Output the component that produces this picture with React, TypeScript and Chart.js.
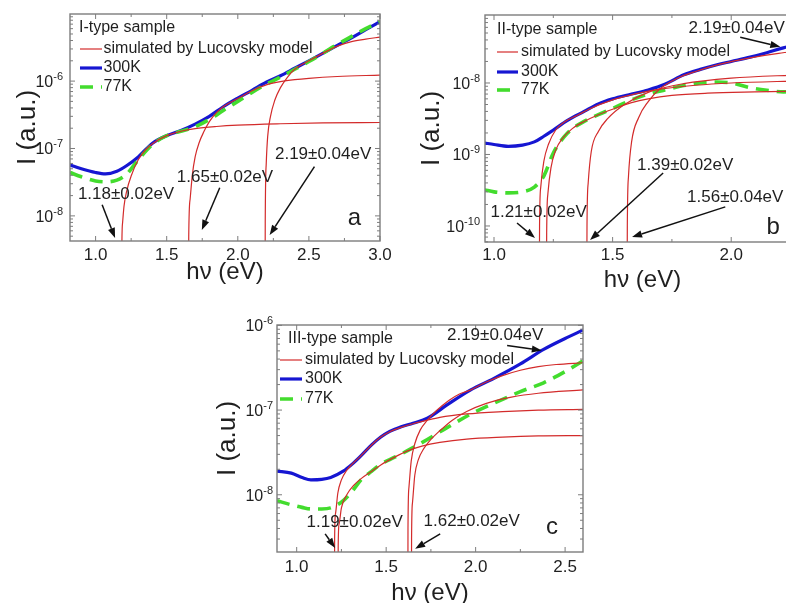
import React, { useEffect, useRef } from 'react';
import { Chart, registerables } from 'chart.js';

Chart.register(...registerables);

const FONT = '"Liberation Sans", Arial, Helvetica, sans-serif';
const INK = '#1f1f1f';
const FRAME = '#7d7d7d';
const RED = '#d32b2b';
const BLUE = '#1616d2';
const GREEN = '#43dc2e';

// ===== (a) I-type sample =====
const aEnergy = [0.82, 0.9, 1.0, 1.07, 1.15, 1.22, 1.3, 1.4, 1.5, 1.6, 1.7, 1.8, 1.9, 2.0, 2.1, 2.2, 2.3, 2.4, 2.5, 2.6, 2.7, 2.8, 2.9, 3.0];
const aI300K = [5.7e-8, 5.0e-8, 4.4e-8, 4.2e-8, 4.6e-8, 5.6e-8, 7.5e-8, 1.2e-7, 1.55e-7, 1.85e-7, 2.3e-7, 3.0e-7, 4.2e-7, 5.6e-7, 7.3e-7, 9.6e-7, 1.2e-6, 1.55e-6, 2.0e-6, 2.6e-6, 3.4e-6, 4.4e-6, 5.8e-6, 7.6e-6];
const aI77K = [4.4e-8, 3.8e-8, 3.3e-8, 3.2e-8, 3.4e-8, 4.2e-8, 6.8e-8, 1.15e-7, 1.55e-7, 1.8e-7, 2.1e-7, 2.7e-7, 3.7e-7, 5.0e-7, 6.8e-7, 9.0e-7, 1.15e-6, 1.5e-6, 1.95e-6, 2.6e-6, 3.5e-6, 4.6e-6, 6.0e-6, 7.6e-6];
const aFit118E = [1.18, 1.185, 1.19, 1.2, 1.22, 1.25, 1.3, 1.35, 1.4, 1.5, 1.6, 1.7, 1.85, 2.0, 2.3, 2.6, 3.0];
const aFit118I = [1e-11, 4e-9, 8e-9, 1.4e-8, 2.4e-8, 3.9e-8, 6.8e-8, 9.5e-8, 1.18e-7, 1.55e-7, 1.8e-7, 1.97e-7, 2.12e-7, 2.22e-7, 2.33e-7, 2.4e-7, 2.43e-7];
const aFit165E = [1.65, 1.655, 1.665, 1.68, 1.7, 1.73, 1.76, 1.8, 1.85, 1.9, 2.0, 2.1, 2.2, 2.3, 2.4, 2.5, 2.7, 3.0];
const aFit165I = [1e-11, 5e-9, 1.8e-8, 4e-8, 7.5e-8, 1.25e-7, 1.75e-7, 2.5e-7, 3.4e-7, 4.2e-7, 5.5e-7, 7.2e-7, 8.8e-7, 9.8e-7, 1.05e-6, 1.1e-6, 1.17e-6, 1.23e-6];
const aFit219E = [2.19, 2.193, 2.2, 2.21, 2.23, 2.26, 2.3, 2.35, 2.4, 2.5, 2.6, 2.7, 2.8, 2.9, 3.0];
const aFit219I = [1e-11, 8e-9, 6e-8, 1.5e-7, 3e-7, 5.2e-7, 8e-7, 1.15e-6, 1.5e-6, 2.0e-6, 2.6e-6, 3.3e-6, 3.85e-6, 4.2e-6, 4.5e-6];

// ===== (b) II-type sample =====
const bEnergy = [0.96, 1.0, 1.06, 1.12, 1.17, 1.21, 1.25, 1.31, 1.38, 1.44, 1.5, 1.58, 1.65, 1.72, 1.8, 1.87, 1.94, 2.0, 2.08, 2.15, 2.22, 2.29];
const bI300K = [1.45e-9, 1.38e-9, 1.3e-9, 1.35e-9, 1.5e-9, 1.8e-9, 2.2e-9, 3.0e-9, 4.0e-9, 5.1e-9, 6.0e-9, 7.0e-9, 8.0e-9, 9.6e-9, 1.3e-8, 1.55e-8, 1.8e-8, 2.0e-8, 2.3e-8, 2.65e-8, 3.1e-8, 3.5e-8];
const bI77K = [3.2e-10, 3.0e-10, 2.9e-10, 3.0e-10, 3.5e-10, 5e-10, 1.05e-9, 2.0e-9, 2.9e-9, 3.6e-9, 4.4e-9, 5.8e-9, 7e-9, 8e-9, 9.2e-9, 1.0e-8, 1.03e-8, 1.0e-8, 8.6e-9, 7.9e-9, 7.5e-9, 7.6e-9];
const bFit119E = [1.19, 1.192, 1.197, 1.21, 1.23, 1.26, 1.3, 1.35, 1.4, 1.5, 1.6, 1.7, 1.85, 2.0, 2.29];
const bFit119I = [1e-12, 1e-10, 3.5e-10, 8e-10, 1.4e-9, 2.2e-9, 2.9e-9, 3.5e-9, 4.3e-9, 5.8e-9, 7.1e-9, 8.2e-9, 9.3e-9, 1.0e-8, 1.07e-8];
const bFit122E = [1.22, 1.222, 1.227, 1.24, 1.26, 1.29, 1.33, 1.38, 1.44, 1.5, 1.58, 1.65, 1.75, 1.9, 2.1, 2.29];
const bFit122I = [1e-12, 8e-11, 2.8e-10, 6.5e-10, 1.15e-9, 1.7e-9, 2.3e-9, 2.9e-9, 3.6e-9, 4.3e-9, 5.3e-9, 6.0e-9, 6.7e-9, 7.2e-9, 7.5e-9, 7.7e-9];
const bFit139E = [1.39, 1.392, 1.397, 1.41, 1.44, 1.48, 1.55, 1.65, 1.8, 2.0, 2.29];
const bFit139I = [1e-12, 1e-10, 4e-10, 1.1e-9, 2.1e-9, 3.2e-9, 5e-9, 7.4e-9, 9.8e-9, 1.17e-8, 1.3e-8];
const bFit156E = [1.56, 1.562, 1.567, 1.58, 1.61, 1.65, 1.7, 1.77, 1.85, 1.95, 2.08, 2.2, 2.29];
const bFit156I = [1e-12, 1e-10, 5e-10, 1.5e-9, 3.3e-9, 5.5e-9, 8.3e-9, 1.15e-8, 1.45e-8, 1.82e-8, 2.25e-8, 2.6e-8, 2.8e-8];

// ===== (c) III-type sample =====
const cEnergy = [0.89, 0.97, 1.03, 1.08, 1.14, 1.19, 1.26, 1.31, 1.36, 1.42, 1.47, 1.52, 1.58, 1.65, 1.73, 1.84, 1.97, 2.1, 2.25, 2.38, 2.5, 2.6];
const cI300K = [1.9e-8, 1.8e-8, 1.6e-8, 1.5e-8, 1.52e-8, 1.6e-8, 1.9e-8, 2.3e-8, 2.9e-8, 3.9e-8, 4.8e-8, 5.6e-8, 6.3e-8, 7.0e-8, 8.0e-8, 1.15e-7, 1.72e-7, 2.35e-7, 3.5e-7, 5.2e-7, 7.0e-7, 8.8e-7];
const cI77K = [8.5e-9, 7.6e-9, 7.1e-9, 6.8e-9, 6.8e-9, 7.0e-9, 8.5e-9, 1.1e-8, 1.5e-8, 1.9e-8, 2.3e-8, 2.6e-8, 3.0e-8, 3.6e-8, 4.5e-8, 6.2e-8, 8.9e-8, 1.2e-7, 1.65e-7, 2.1e-7, 2.85e-7, 3.8e-7];
const cFit121E = [1.21, 1.212, 1.217, 1.23, 1.25, 1.28, 1.31, 1.36, 1.42, 1.47, 1.52, 1.58, 1.65, 1.72, 1.8, 1.95, 2.15, 2.35, 2.6];
const cFit121I = [1e-11, 3e-9, 6e-9, 1.05e-8, 1.5e-8, 1.95e-8, 2.3e-8, 2.9e-8, 3.9e-8, 4.8e-8, 5.55e-8, 6.2e-8, 6.9e-8, 7.5e-8, 8.2e-8, 9.0e-8, 9.6e-8, 1.0e-7, 1.02e-7];
const cFit123E = [1.23, 1.232, 1.237, 1.25, 1.28, 1.32, 1.36, 1.42, 1.47, 1.55, 1.62, 1.7, 1.8, 1.95, 2.15, 2.35, 2.6];
const cFit123I = [1e-11, 2.5e-9, 4.5e-9, 7e-9, 1.0e-8, 1.3e-8, 1.55e-8, 1.9e-8, 2.25e-8, 2.8e-8, 3.3e-8, 3.75e-8, 4.15e-8, 4.55e-8, 4.8e-8, 4.95e-8, 5.0e-8];
const cFit162E = [1.62, 1.622, 1.627, 1.64, 1.66, 1.69, 1.73, 1.78, 1.85, 1.91, 1.97, 2.05, 2.15, 2.25, 2.35, 2.45, 2.6];
const cFit162I = [1e-11, 4e-9, 1.2e-8, 2.5e-8, 4e-8, 5.8e-8, 7.6e-8, 9.8e-8, 1.3e-7, 1.55e-7, 1.72e-7, 2.1e-7, 2.55e-7, 2.95e-7, 3.25e-7, 3.45e-7, 3.62e-7];
const cFit164E = [1.64, 1.642, 1.647, 1.66, 1.68, 1.71, 1.75, 1.8, 1.87, 1.95, 2.06, 2.2, 2.35, 2.6];
const cFit164I = [1e-11, 3e-9, 8e-9, 1.7e-8, 2.6e-8, 3.5e-8, 4.5e-8, 5.7e-8, 7.6e-8, 9.6e-8, 1.2e-7, 1.42e-7, 1.58e-7, 1.73e-7];

const X_TITLE = 'h\u03bd (eV)';
const Y_TITLE = 'I (a.u.)';
const FIT_LABEL = 'simulated by Lucovsky model';

type Fit = { e: number[]; i: number[] };
type Note = { text: string; tx: number; ty: number; fx: number; fy: number; hx: number; hy: number };

interface PanelSpec {
  box: { left: number; top: number; width: number; height: number };
  yAxisWidth: number;
  xAxisHeight: number;
  padTop: number;
  padRight: number;
  xMin: number;
  xMax: number;
  yMin: number;
  yMax: number;
  xTicks: number[];
  tickPad: number;
  xTitlePad: number;
  yTitlePad: number;
  labelGap: number;
  e300: number[];
  i300: number[];
  e77: number[];
  i77: number[];
  fits: Fit[];
  sample: string;
  legend: { titleX: number; titleY: number; x0: number; x1: number; textX: number; rows: number[] };
  notes: Note[];
  letter: { text: string; x: number; y: number };
}

const panels: PanelSpec[] = [
  {
    box: { left: 0, top: 0, width: 400, height: 290 },
    yAxisWidth: 70, xAxisHeight: 49, padTop: 14, padRight: 20,
    xMin: 0.82, xMax: 3.0, yMin: 4.24e-9, yMax: 9.9e-6,
    xTicks: [1.0, 1.5, 2.0, 2.5, 3.0],
    tickPad: 4, xTitlePad: 3, yTitlePad: 12, labelGap: 7,
    e300: aEnergy, i300: aI300K, e77: aEnergy, i77: aI77K,
    fits: [
      { e: aFit118E, i: aFit118I },
      { e: aFit165E, i: aFit165I },
      { e: aFit219E, i: aFit219I },
    ],
    sample: 'I-type sample',
    legend: { titleX: 9, titleY: 14, x0: 10, x1: 32, textX: 33.5, rows: [35, 54, 73] },
    notes: [
      { text: '1.18\u00b10.02eV', tx: 1.214, ty: 2.06e-8, fx: 1.046, fy: 1.46e-8, hx: 1.137, hy: 4.7e-9 },
      { text: '1.65\u00b10.02eV', tx: 1.91, ty: 3.69e-8, fx: 1.873, fy: 2.62e-8, hx: 1.747, hy: 6.18e-9 },
      { text: '2.19\u00b10.04eV', tx: 2.6, ty: 8.13e-8, fx: 2.539, fy: 5.38e-8, hx: 2.224, hy: 5.2e-9 },
    ],
    letter: { text: 'a', x: 2.82, y: 9.3e-9 },
  },
  {
    box: { left: 400, top: 0, width: 420, height: 300 },
    yAxisWidth: 85, xAxisHeight: 58, padTop: 15, padRight: 20,
    xMin: 0.962, xMax: 2.29, yMin: 5.97e-11, yMax: 8.93e-8,
    xTicks: [1.0, 1.5, 2.0],
    tickPad: 3, xTitlePad: 5.6, yTitlePad: 16, labelGap: 5,
    e300: bEnergy, i300: bI300K, e77: bEnergy, i77: bI77K,
    fits: [
      { e: bFit119E, i: bFit119I },
      { e: bFit122E, i: bFit122I },
      { e: bFit139E, i: bFit139I },
      { e: bFit156E, i: bFit156I },
    ],
    sample: 'II-type sample',
    legend: { titleX: 12, titleY: 15, x0: 12, x1: 33, textX: 36, rows: [37, 57, 75] },
    notes: [
      { text: '1.21\u00b10.02eV', tx: 1.188, ty: 1.57e-10, fx: 1.097, fy: 1.1e-10, hx: 1.173, hy: 6.8e-11 },
      { text: '1.39\u00b10.02eV', tx: 1.806, ty: 7.13e-10, fx: 1.713, fy: 5.5e-10, hx: 1.405, hy: 6.37e-11 },
      { text: '1.56\u00b10.04eV', tx: 2.017, ty: 2.55e-10, fx: 1.975, fy: 1.85e-10, hx: 1.582, hy: 7.0e-11 },
      { text: '2.19\u00b10.04eV', tx: 2.023, ty: 5.87e-8, fx: 2.038, fy: 4.35e-8, hx: 2.207, hy: 3.22e-8 },
    ],
    letter: { text: 'b', x: 2.177, y: 9.7e-11 },
  },
  {
    box: { left: 200, top: 300, width: 400, height: 320 },
    yAxisWidth: 77, xAxisHeight: 68, padTop: 25, padRight: 17,
    xMin: 0.89, xMax: 2.6, yMin: 2.11e-9, yMax: 1.01e-6,
    xTicks: [1.0, 1.5, 2.0, 2.5],
    tickPad: 5.5, xTitlePad: 12.6, yTitlePad: 12, labelGap: 4,
    e300: cEnergy, i300: cI300K, e77: cEnergy, i77: cI77K,
    fits: [
      { e: cFit121E, i: cFit121I },
      { e: cFit123E, i: cFit123I },
      { e: cFit162E, i: cFit162I },
      { e: cFit164E, i: cFit164I },
    ],
    sample: 'III-type sample',
    legend: { titleX: 11, titleY: 14, x0: 3, x1: 25, textX: 28, rows: [35, 54, 74] },
    notes: [
      { text: '2.19\u00b10.04eV', tx: 2.109, ty: 7.6e-7, fx: 2.176, fy: 5.8e-7, hx: 2.37, hy: 5.06e-7 },
      { text: '1.19\u00b10.02eV', tx: 1.324, ty: 4.67e-9, fx: 1.159, fy: 3.45e-9, hx: 1.215, hy: 2.36e-9 },
      { text: '1.62\u00b10.02eV', tx: 1.978, ty: 4.92e-9, fx: 1.802, fy: 3.45e-9, hx: 1.662, hy: 2.3e-9 },
    ],
    letter: { text: 'c', x: 2.427, y: 4.07e-9 },
  },
];

function drawArrow(ctx: CanvasRenderingContext2D, x0: number, y0: number, x1: number, y1: number) {
  const ang = Math.atan2(y1 - y0, x1 - x0);
  const L = 10;
  const W = 3.6;
  const bx = x1 - L * Math.cos(ang);
  const by = y1 - L * Math.sin(ang);
  ctx.beginPath();
  ctx.moveTo(x0, y0);
  ctx.lineTo(bx, by);
  ctx.stroke();
  ctx.beginPath();
  ctx.moveTo(x1, y1);
  ctx.lineTo(bx + W * Math.sin(ang), by - W * Math.cos(ang));
  ctx.lineTo(bx - W * Math.sin(ang), by + W * Math.cos(ang));
  ctx.closePath();
  ctx.fill();
}

// Frame with inward ticks, superscripted decade labels, in-plot legend and arrow notes
const decorPlugin = {
  id: 'decor',
  afterDatasetsDraw(chart: any, _args: any, o: any) {
    const { ctx, chartArea: ca } = chart;
    const xs = chart.scales.x;
    const ys = chart.scales.y;
    const p: PanelSpec = o.spec;
    ctx.save();

    ctx.strokeStyle = FRAME;
    ctx.lineWidth = 1.4;
    ctx.strokeRect(ca.left, ca.top, ca.right - ca.left, ca.bottom - ca.top);

    ctx.lineWidth = 1;
    const vTick = (px: number, len: number) => {
      ctx.beginPath();
      ctx.moveTo(px, ca.bottom);
      ctx.lineTo(px, ca.bottom - len);
      ctx.moveTo(px, ca.top);
      ctx.lineTo(px, ca.top + len);
      ctx.stroke();
    };
    const hTick = (py: number, len: number) => {
      ctx.beginPath();
      ctx.moveTo(ca.left, py);
      ctx.lineTo(ca.left + len, py);
      ctx.moveTo(ca.right, py);
      ctx.lineTo(ca.right - len, py);
      ctx.stroke();
    };
    const step = 0.25;
    const k0 = Math.ceil(xs.min / step - 1e-9);
    const k1 = Math.floor(xs.max / step + 1e-9);
    for (let k = k0; k <= k1; k++) vTick(xs.getPixelForValue(k * step), k % 2 === 0 ? 5 : 3);

    const d0 = Math.floor(Math.log10(ys.min));
    const d1 = Math.ceil(Math.log10(ys.max));
    for (let d = d0; d <= d1; d++) {
      for (let m = 1; m <= 9; m++) {
        const v = m * Math.pow(10, d);
        if (v < ys.min * 0.999 || v > ys.max * 1.001) continue;
        hTick(ys.getPixelForValue(v), m === 1 ? 5 : 3);
      }
    }

    // decade labels 10^n
    ctx.fillStyle = INK;
    ctx.textBaseline = 'alphabetic';
    ctx.textAlign = 'left';
    const lo = Math.ceil(Math.log10(ys.min) - 1e-3);
    const hi = Math.floor(Math.log10(ys.max) + 1e-3);
    for (let d = lo; d <= hi; d++) {
      const py = ys.getPixelForValue(Math.pow(10, d));
      const right = ca.left - p.labelGap;
      const exp = String(d);
      ctx.font = `11px ${FONT}`;
      const we = ctx.measureText(exp).width;
      ctx.font = `16px ${FONT}`;
      const wb = ctx.measureText('10').width;
      ctx.fillText('10', right - we - wb, py + 6);
      ctx.font = `11px ${FONT}`;
      ctx.fillText(exp, right - we, py - 1);
    }

    // legend
    const lg = p.legend;
    ctx.textBaseline = 'middle';
    ctx.font = `16px ${FONT}`;
    ctx.fillText(p.sample, ca.left + lg.titleX, ca.top + lg.titleY);
    const rows = [
      { label: FIT_LABEL, color: RED, width: 1.2, dash: [] as number[] },
      { label: '300K', color: BLUE, width: 3.2, dash: [] as number[] },
      { label: '77K', color: GREEN, width: 3.6, dash: [13, 8] },
    ];
    rows.forEach((r, idx) => {
      const y = ca.top + lg.rows[idx];
      ctx.save();
      ctx.strokeStyle = r.color;
      ctx.lineWidth = r.width;
      ctx.setLineDash(r.dash);
      ctx.beginPath();
      ctx.moveTo(ca.left + lg.x0, y);
      ctx.lineTo(ca.left + lg.x1, y);
      ctx.stroke();
      ctx.restore();
      ctx.fillStyle = INK;
      ctx.fillText(r.label, ca.left + lg.textX, y);
    });

    // threshold notes with arrows
    ctx.textAlign = 'center';
    ctx.font = `17px ${FONT}`;
    ctx.strokeStyle = '#111';
    ctx.lineWidth = 1.5;
    p.notes.forEach((n) => {
      ctx.fillStyle = INK;
      ctx.fillText(n.text, xs.getPixelForValue(n.tx), ys.getPixelForValue(n.ty));
      ctx.fillStyle = '#111';
      drawArrow(
        ctx,
        xs.getPixelForValue(n.fx), ys.getPixelForValue(n.fy),
        xs.getPixelForValue(n.hx), ys.getPixelForValue(n.hy),
      );
    });

    ctx.fillStyle = INK;
    ctx.font = `24px ${FONT}`;
    ctx.fillText(p.letter.text, xs.getPixelForValue(p.letter.x), ys.getPixelForValue(p.letter.y));
    ctx.restore();
  },
};

function series(e: number[], i: number[], color: string, width: number, dash: number[], order: number) {
  return {
    data: e.map((x, k) => ({ x, y: i[k] })),
    borderColor: color,
    borderWidth: width,
    borderDash: dash,
    pointRadius: 0,
    fill: false,
    cubicInterpolationMode: 'monotone' as const,
    order,
    clip: 0,
  };
}

function buildConfig(p: PanelSpec): any {
  const datasets = [
    ...p.fits.map((f) => series(f.e, f.i, RED, 1.2, [], 0)),
    series(p.e77, p.i77, GREEN, 3.6, [13, 8], 1),
    series(p.e300, p.i300, BLUE, 3.2, [], 2),
  ];
  return {
    type: 'line',
    data: { datasets },
    options: {
      animation: false,
      responsive: false,
      devicePixelRatio: 1,
      events: [],
      layout: { padding: { top: p.padTop, right: p.padRight, left: 0, bottom: 0 } },
      plugins: {
        legend: { display: false },
        tooltip: { enabled: false },
        decor: { spec: p },
      },
      scales: {
        x: {
          type: 'linear',
          min: p.xMin,
          max: p.xMax,
          grid: { display: false, drawTicks: false },
          border: { display: false },
          afterBuildTicks: (s: any) => {
            s.ticks = p.xTicks.map((v) => ({ value: v }));
          },
          afterFit: (s: any) => {
            s.height = p.xAxisHeight;
          },
          ticks: {
            autoSkip: false,
            maxRotation: 0,
            padding: p.tickPad,
            color: INK,
            font: { family: FONT, size: 17 },
            callback: (v: any) => Number(v).toFixed(1),
          },
          title: {
            display: true,
            text: X_TITLE,
            color: INK,
            font: { family: FONT, size: 24 },
            padding: { top: 0, bottom: p.xTitlePad },
          },
        },
        y: {
          type: 'logarithmic',
          min: p.yMin,
          max: p.yMax,
          grid: { display: false, drawTicks: false },
          border: { display: false },
          ticks: { display: false },
          afterFit: (s: any) => {
            s.width = p.yAxisWidth;
          },
          title: {
            display: true,
            text: Y_TITLE,
            color: INK,
            font: { family: FONT, size: 26 },
            padding: { top: p.yTitlePad, bottom: 0 },
          },
        },
      },
    },
    plugins: [decorPlugin],
  };
}

function Panel({ spec }: { spec: PanelSpec }) {
  const ref = useRef<HTMLCanvasElement>(null);
  useEffect(() => {
    if (!ref.current) return;
    const chart = new Chart(ref.current, buildConfig(spec));
    return () => chart.destroy();
  }, [spec]);
  const b = spec.box;
  return (
    <canvas
      ref={ref}
      width={b.width}
      height={b.height}
      style={{ position: 'absolute', left: b.left, top: b.top, width: b.width, height: b.height }}
    />
  );
}

export default function App() {
  return (
    <div
      style={{
        position: 'absolute',
        left: 0,
        top: 0,
        width: 786,
        height: 603,
        overflow: 'hidden',
        background: '#ffffff',
      }}
    >
      {panels.map((p, k) => (
        <Panel key={k} spec={p} />
      ))}
    </div>
  );
}
